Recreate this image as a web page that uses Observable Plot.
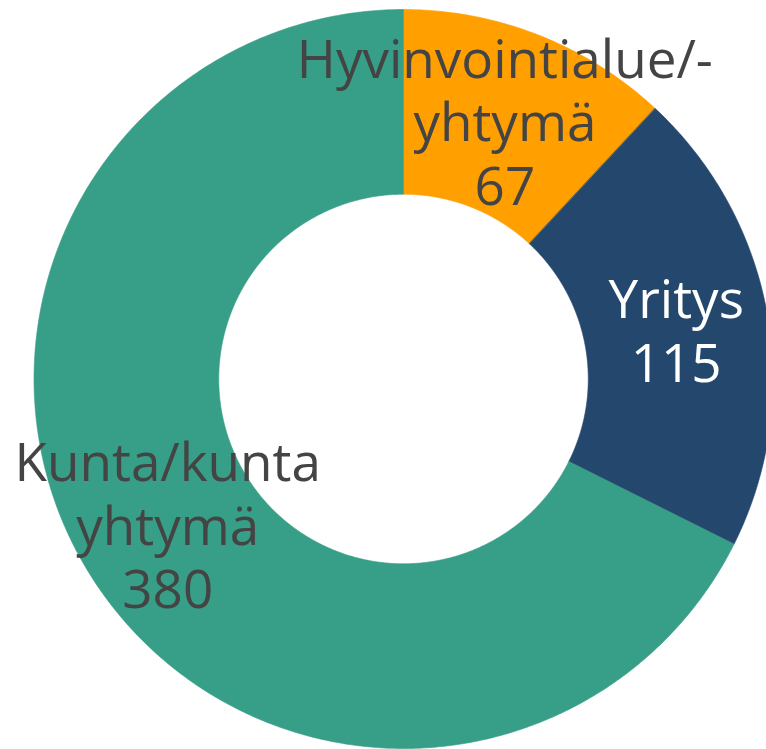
<!DOCTYPE html>
<html><head><meta charset="utf-8">
<script src="https://cdn.jsdelivr.net/npm/d3@7"></script>
<script src="https://cdn.jsdelivr.net/npm/@observablehq/plot@0.6"></script>
<style>body{margin:0;background:#fff}</style>
</head><body><div id="chart"></div>
<script>
// Data
const categories = ["Hyvinvointialue/-yhtymä", "Yritys", "Kunta/kuntayhtymä"];
const labels = ["Hyvinvointialue/-\nyhtymä", "Yritys", "Kunta/kunta\nyhtymä"];
const values = [67, 115, 380];

// Styles
const palette = ["#FFA000", "#24476D", "#379E87"];
const darkText = "#444444";
const lightIndex = 1; // Yritys label in white
const innerR = 0.5, outerR = 1, labelR = 0.75;

const total = d3.sum(values);
let cum = 0;
const slices = values.map((v, i) => {
  const a0 = cum / total * 2 * Math.PI; cum += v;
  const a1 = cum / total * 2 * Math.PI;
  return {i, category: categories[i], label: labels[i] + "\n" + v, a0, a1, mid: (a0 + a1) / 2};
});

// Ring polygons (outer arc forward, inner arc back)
const ring = [];
for (const s of slices) {
  const n = Math.max(8, Math.ceil((s.a1 - s.a0) / (Math.PI / 360)));
  for (let k = 0; k <= n; k++) {
    const a = s.a0 + (s.a1 - s.a0) * k / n;
    ring.push({category: s.category, x: outerR * Math.sin(a), y: outerR * Math.cos(a)});
  }
  for (let k = n; k >= 0; k--) {
    const a = s.a0 + (s.a1 - s.a0) * k / n;
    ring.push({category: s.category, x: innerR * Math.sin(a), y: innerR * Math.cos(a)});
  }
}

const font = "'Open Sans', 'Noto Sans', sans-serif";
const textOpts = {
  x: d => labelR * Math.sin(d.mid),
  y: d => labelR * Math.cos(d.mid),
  text: "label",
  fontSize: 53,
  lineHeight: 1.198,
  fontFamily: font
};

const chart = Plot.plot({
  width: 766,
  height: 749,
  margin: 0,
  style: {background: "#fff", overflow: "hidden"},
  x: {domain: [-1.0907, 0.9824], axis: null},
  y: {domain: [-1.0027, 1.0244], axis: null},
  color: {domain: categories, range: palette},
  marks: [
    Plot.line(ring, {x: "x", y: "y", z: "category", fill: "category", stroke: "category", strokeWidth: 0.6, curve: "linear-closed"}),
    Plot.text(slices, {...textOpts, filter: d => d.i !== lightIndex, fill: darkText}),
    Plot.text(slices, {...textOpts, filter: d => d.i === lightIndex, fill: "#ffffff"})
  ]
});
document.getElementById("chart").append(chart);
</script>
</body></html>
